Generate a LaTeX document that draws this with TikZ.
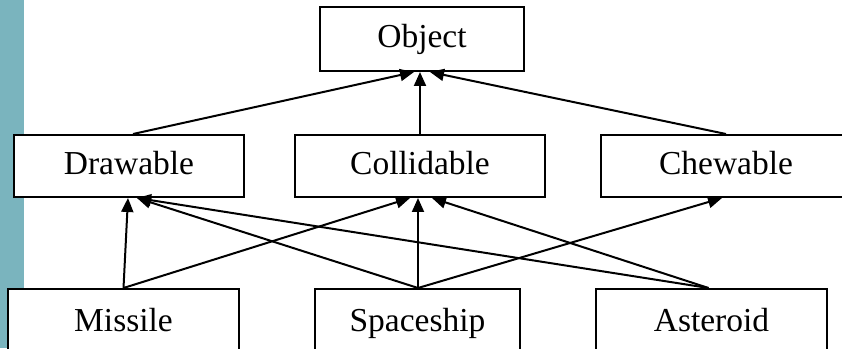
\documentclass[tikz,border=0pt]{standalone}
\usepackage{fontspec}
\setmainfont{Liberation Serif}
\usetikzlibrary{arrows.meta}
\definecolor{sidebar}{RGB}{122,180,190}
\begin{document}
\begin{tikzpicture}[x=1pt,y=1pt,
  box/.style={draw=black,line width=2pt,fill=white,inner sep=0pt,
    font=\fontsize{33.5}{40}\selectfont,text height=23.5pt,text depth=5.5pt},
  link/.style={line width=2pt,-{Triangle[length=14pt,width=12pt]}}]
\useasboundingbox (0,0) rectangle (842,348);
\fill[sidebar] (0,0) rectangle (24,348);
\node[box,minimum width=204pt,minimum height=64pt] (object) at (422,309) {Object};
\node[box,minimum width=230pt,minimum height=62pt] (drawable) at (129,182) {Drawable};
\node[box,minimum width=250pt,minimum height=62pt] (collidable) at (420,182) {Collidable};
\node[box,minimum width=250pt,minimum height=62pt] (chewable) at (726,182) {Chewable};
\node[box,minimum width=231pt,minimum height=66pt] (missile) at (123.5,26) {Missile};
\node[box,minimum width=205pt,minimum height=66pt] (spaceship) at (417.5,26) {Spaceship};
\node[box,minimum width=231pt,minimum height=66pt] (asteroid) at (711.5,26) {Asteroid};
\coordinate (sp) at ([xshift=0.5pt]spaceship.north);
\draw[link] ([xshift=4pt]drawable.north) -- ([xshift=-8pt]object.south);
\draw[link] (collidable.north) -- ([xshift=-2pt]object.south);
\draw[link] (chewable.north) -- ([xshift=8pt]object.south);
\draw[link] (missile.north) -- ([xshift=-1pt]drawable.south);
\draw[link] (missile.north) -- ([xshift=-10pt]collidable.south);
\draw[link] (sp) -- ([xshift=8pt]drawable.south);
\draw[link] (sp) -- (sp |- collidable.south);
\draw[link] (sp) -- ([xshift=-4pt]chewable.south);
\draw[link] ([xshift=-3pt]asteroid.north) -- ([xshift=8pt]drawable.south);
\draw[link] ([xshift=-3pt]asteroid.north) -- ([xshift=12pt]collidable.south);
\end{tikzpicture}
\end{document}
